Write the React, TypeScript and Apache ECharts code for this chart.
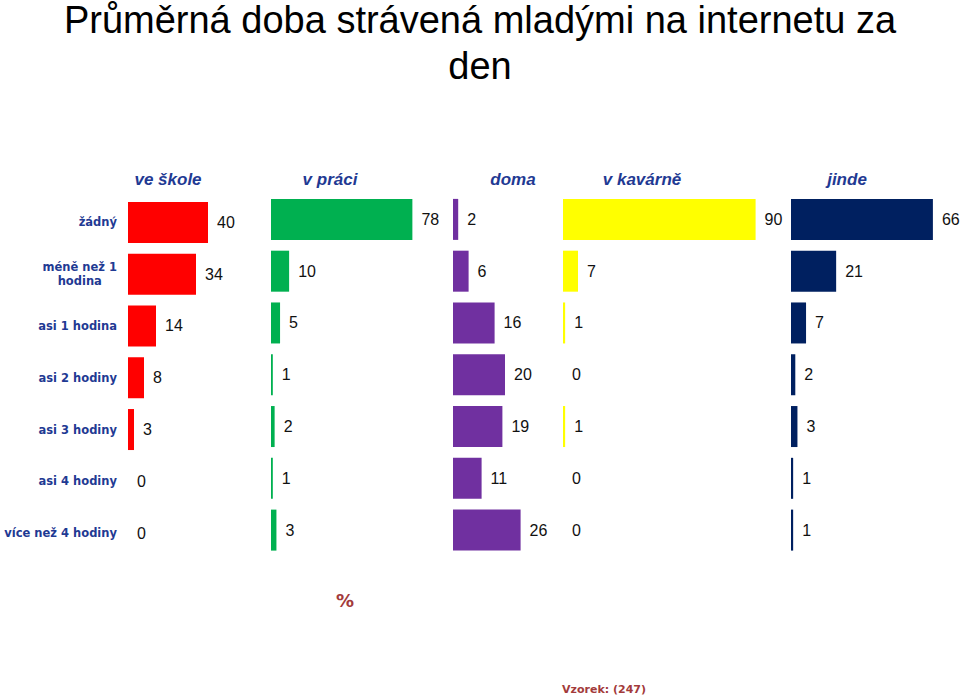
import React, { useEffect, useRef } from "react";
import * as echarts from "echarts";

const categories = [
  "žádný",
  "méně než 1\nhodina",
  "asi 1 hodina",
  "asi 2 hodiny",
  "asi 3 hodiny",
  "asi 4 hodiny",
  "více než 4 hodiny",
];
const panelTitles = ["ve škole", "v práci", "doma", "v kavárně", "jinde"];
const veSkole = [40, 34, 14, 8, 3, 0, 0];
const vPraci = [78, 10, 5, 1, 2, 1, 3];
const doma = [2, 6, 16, 20, 19, 11, 26];
const vKavarne = [90, 7, 1, 0, 1, 0, 0];
const jinde = [66, 21, 7, 2, 3, 1, 1];
const seriesData = [veSkole, vPraci, doma, vKavarne, jinde];
const axisMax = [50, 80, 30, 100, 70];
const titleLines = ["Průměrná doba strávená mladými na internetu za", "den"];

const colors = ["#FF0000", "#00B050", "#7030A0", "#FFFF00", "#002060"];
const gridLeft = [128, 271, 453, 563, 791];
const gridWidth = [100, 145, 78, 214, 150.5];
const gridTop = [196.5, 193.5, 193.5, 193.5, 193.5];
const titleCenters = [168, 330, 513, 642, 847];

const catColor = "#1F3A93";

export default function App() {
  const ref = useRef<HTMLDivElement>(null);
  useEffect(() => {
    if (!ref.current) return;
    const chart = echarts.init(ref.current, null, { renderer: "svg" });
    const grids = gridLeft.map((l, i) => ({
      left: l,
      width: gridWidth[i],
      top: gridTop[i],
      height: 362.5,
      containLabel: false,
      outerBoundsMode: "none",
    }));
    const xAxes = axisMax.map((m, i) => ({
      type: "value",
      gridIndex: i,
      min: 0,
      max: m,
      show: false,
    }));
    const yAxes = panelTitles.map((_, i) => ({
      type: "category",
      gridIndex: i,
      data: categories,
      inverse: true,
      axisLine: { show: false },
      axisTick: { show: false },
      splitLine: { show: false },
      axisLabel: {
        show: i === 0,
        margin: 11,
        align: "right",
        fontFamily: "DejaVu Sans",
        fontWeight: "bold",
        fontSize: 11.5,
        color: catColor,
        lineHeight: 14,
        formatter: (v: string) =>
          v.includes("\n")
            ? v
                .split("\n")
                .map((l) => `{c|${l}}`)
                .join("\n")
            : v,
        rich: {
          c: {
            align: "center",
            fontFamily: "DejaVu Sans",
            fontWeight: "bold",
            fontSize: 11.5,
            color: catColor,
            lineHeight: 14,
          },
        },
      },
    }));
    const series = seriesData.map((d, i) => ({
      type: "bar",
      name: panelTitles[i],
      xAxisIndex: i,
      yAxisIndex: i,
      data: d,
      barWidth: 41,
      itemStyle: { color: colors[i] },
      label: {
        show: true,
        position: "right",
        distance: 9,
        formatter: "{c}",
        fontFamily: "Liberation Sans",
        fontSize: 16,
        color: "#111",
      },
      silent: true,
    }));
    const graphics: any[] = titleLines.map((t, i) => ({
      type: "text",
      x: 480,
      y: 20 + i * 46,
      style: {
        text: t,
        fontFamily: "Liberation Sans",
        fontSize: 38,
        fill: "#000",
        textAlign: "center",
        textVerticalAlign: "middle",
      },
    }));
    panelTitles.forEach((t, i) =>
      graphics.push({
        type: "text",
        x: titleCenters[i],
        y: 179,
        style: {
          text: t,
          fontFamily: "Liberation Sans",
          fontWeight: "bold",
          fontStyle: "italic",
          fontSize: 17,
          fill: catColor,
          textAlign: "center",
          textVerticalAlign: "middle",
        },
      })
    );
    graphics.push(
      {
        type: "text",
        x: 345,
        y: 600,
        style: {
          text: "%",
          fontFamily: "DejaVu Sans",
          fontWeight: "bold",
          fontSize: 18,
          fill: "#A33B3B",
          textAlign: "center",
          textVerticalAlign: "middle",
        },
      },
      {
        type: "text",
        x: 604,
        y: 689,
        style: {
          text: "Vzorek: (247)",
          fontFamily: "DejaVu Sans",
          fontWeight: "bold",
          fontSize: 11,
          fill: "#A33B3B",
          textAlign: "center",
          textVerticalAlign: "middle",
        },
      }
    );
    chart.setOption({
      animation: false,
      backgroundColor: "#ffffff",
      grid: grids,
      xAxis: xAxes,
      yAxis: yAxes,
      series,
      graphic: graphics,
    });
    return () => chart.dispose();
  }, []);
  return (
    <div
      ref={ref}
      style={{ position: "fixed", left: 0, top: 0, width: 960, height: 697 }}
    />
  );
}
